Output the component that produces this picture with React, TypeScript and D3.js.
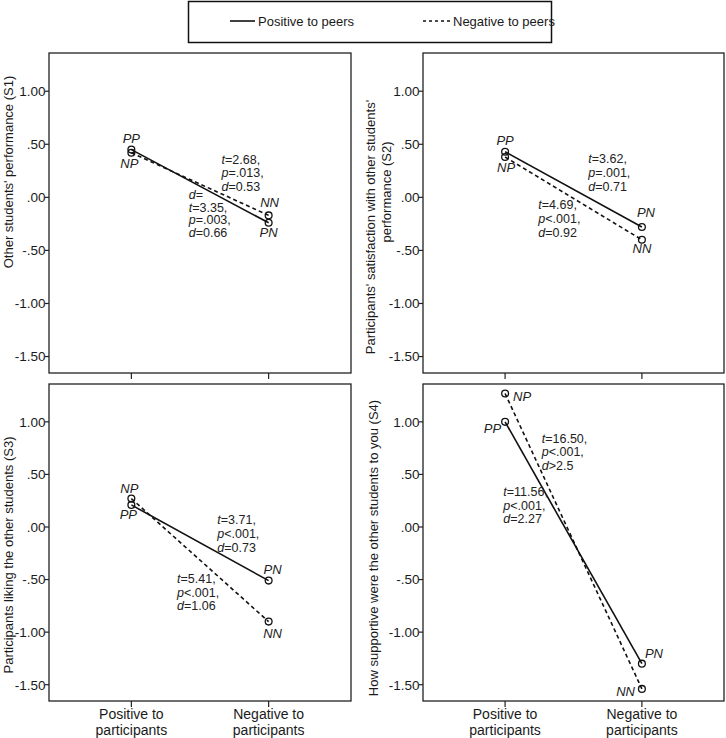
import React from "react";
import * as d3 from "d3";

// ---- data ----
const X_CATEGORY_LINES = [
  ["Positive to", "participants"],
  ["Negative to", "participants"],
];
const Y_TICK_VALUES = [1.0, 0.5, 0.0, -0.5, -1.0, -1.5];
const Y_TICK_LABELS = ["1.00", ".50", ".00", "-.50", "-1.00", "-1.50"];

const LEGEND_LABELS = ["Positive to peers", "Negative to peers"];

// solid = positive to peers (PP, PN); dashed = negative to peers (NP, NN)
const S1_POSITIVE = [0.45, -0.24];
const S1_NEGATIVE = [0.42, -0.17];
const S2_POSITIVE = [0.43, -0.28];
const S2_NEGATIVE = [0.38, -0.4];
const S3_POSITIVE = [0.21, -0.51];
const S3_NEGATIVE = [0.27, -0.9];
const S4_POSITIVE = [1.0, -1.3];
const S4_NEGATIVE = [1.27, -1.54];

const POSITIVE_POINT_LABELS = ["PP", "PN"];
const NEGATIVE_POINT_LABELS = ["NP", "NN"];

const Y_TITLES = [
  ["Other students' performance (S1)"],
  ["Participants' satisfaction with other students'", "performance (S2)"],
  ["Participants liking the other students (S3)"],
  ["How supportive were the other students to you (S4)"],
];

// statistics annotations: [italic letter, rest]
const S1_STATS_A = [["t", "=2.68,"], ["p", "=.013,"], ["d", "=0.53"]];
const S1_STATS_B = [["d", "="], ["t", "=3.35,"], ["p", "=.003,"], ["d", "=0.66"]];
const S2_STATS_A = [["t", "=3.62,"], ["p", "=.001,"], ["d", "=0.71"]];
const S2_STATS_B = [["t", "=4.69,"], ["p", "<.001,"], ["d", "=0.92"]];
const S3_STATS_A = [["t", "=3.71,"], ["p", "<.001,"], ["d", "=0.73"]];
const S3_STATS_B = [["t", "=5.41,"], ["p", "<.001,"], ["d", "=1.06"]];
const S4_STATS_A = [["t", "=16.50,"], ["p", "<.001,"], ["d", ">2.5"]];
const S4_STATS_B = [["t", "=11.56,"], ["p", "<.001,"], ["d", "=2.27"]];

// ---- layout ----
const FONT = "'Liberation Sans', Arial, Helvetica, sans-serif";
const X_DOMAIN = [-0.6, 1.6];
const Y_DOMAIN = [-1.655, 1.36];

const PANEL_BOXES = [
  { x0: 49, x1: 351, y0: 53, y1: 373 },
  { x0: 423, x1: 724, y0: 53, y1: 373 },
  { x0: 49, x1: 351, y0: 384, y1: 701 },
  { x0: 423, x1: 724, y0: 384, y1: 701 },
];

// y-title placement: baseline x per line, center y per line
const TITLE_POS = [
  [{ x: 13, y: 172 }],
  [{ x: 375, y: 227 }, { x: 391, y: 192 }],
  [{ x: 13, y: 555 }],
  [{ x: 378, y: 548 }],
];

// label offsets relative to the point: [dx, dy, anchor]
type Off = [number, number, string];
const POS_LABEL_OFFSETS: Off[][] = [
  [[0, -7, "middle"], [0, 14, "middle"]],
  [[0, -7, "middle"], [4, -10, "middle"]],
  [[-3, 14, "middle"], [4, -7, "middle"]],
  [[-4, 11, "end"], [3, -6, "start"]],
];
const NEG_LABEL_OFFSETS: Off[][] = [
  [[-2, 15, "middle"], [1, -8, "middle"]],
  [[1, 15, "middle"], [0, 13, "middle"]],
  [[-2, -6, "middle"], [4, 16, "middle"]],
  [[8, 8, "start"], [-7, 7, "end"]],
];

// annotation anchors in data units (x along category axis, y value of first baseline)
const ANNOTATIONS = [
  [
    { x: 0.657, y: 0.315, lh: 13.3, lines: S1_STATS_A },
    { x: 0.418, y: -0.02, lh: 12.5, lines: S1_STATS_B },
  ],
  [
    { x: 0.608, y: 0.324, lh: 13.8, lines: S2_STATS_A },
    { x: 0.243, y: -0.109, lh: 14, lines: S2_STATS_B },
  ],
  [
    { x: 0.626, y: 0.024, lh: 13.7, lines: S3_STATS_A },
    { x: 0.333, y: -0.531, lh: 13.7, lines: S3_STATS_B },
  ],
  [
    { x: 0.268, y: 0.803, lh: 13.7, lines: S4_STATS_A },
    { x: -0.013, y: 0.295, lh: 13.7, lines: S4_STATS_B },
  ],
];

const PANELS = [
  { pos: S1_POSITIVE, neg: S1_NEGATIVE, showX: false },
  { pos: S2_POSITIVE, neg: S2_NEGATIVE, showX: false },
  { pos: S3_POSITIVE, neg: S3_NEGATIVE, showX: true },
  { pos: S4_POSITIVE, neg: S4_NEGATIVE, showX: true },
];

function Panel({ idx }: { idx: number }) {
  const box = PANEL_BOXES[idx];
  const p = PANELS[idx];
  const x = d3.scaleLinear().domain(X_DOMAIN).range([box.x0, box.x1]);
  const y = d3.scaleLinear().domain(Y_DOMAIN).range([box.y1, box.y0]);
  const line = d3
    .line<number>()
    .x((_, i) => x(i))
    .y((v) => y(v));

  return (
    <g>
      <rect
        x={box.x0}
        y={box.y0}
        width={box.x1 - box.x0}
        height={box.y1 - box.y0}
        fill="none"
        stroke="#222"
        strokeWidth={1.3}
      />
      {Y_TICK_VALUES.map((v, i) => (
        <g key={i}>
          <line x1={box.x0 - 4} x2={box.x0} y1={y(v)} y2={y(v)} stroke="#222" strokeWidth={1.2} />
          <text
            x={box.x0 - 3.5}
            y={y(v)}
            dy="0.36em"
            textAnchor="end"
            fontSize={13.5}
            fontFamily={FONT}
            fill="#1a1a1a"
          >
            {Y_TICK_LABELS[i]}
          </text>
        </g>
      ))}
      {X_CATEGORY_LINES.map((lines, i) => (
        <g key={i}>
          <line x1={x(i)} x2={x(i)} y1={box.y1} y2={box.y1 + 6} stroke="#222" strokeWidth={1.2} />
          {p.showX &&
            lines.map((t, j) => (
              <text
                key={j}
                x={x(i)}
                y={box.y1 + 18 + j * 15.5}
                textAnchor="middle"
                fontSize={14}
                fontFamily={FONT}
                fill="#1a1a1a"
              >
                {t}
              </text>
            ))}
        </g>
      ))}
      {Y_TITLES[idx].map((t, j) => {
        const tp = TITLE_POS[idx][j];
        return (
          <text
            key={j}
            transform={`translate(${tp.x},${tp.y}) rotate(-90)`}
            textAnchor="middle"
            fontSize={13}
            fontFamily={FONT}
            fill="#1a1a1a"
          >
            {t}
          </text>
        );
      })}
      <path d={line(p.neg) || ""} fill="none" stroke="#111" strokeWidth={1.6} strokeDasharray="4,3" />
      <path d={line(p.pos) || ""} fill="none" stroke="#111" strokeWidth={1.6} />
      {p.pos.map((v, i) => (
        <circle key={"p" + i} cx={x(i)} cy={y(v)} r={3.4} fill="none" stroke="#111" strokeWidth={1.3} />
      ))}
      {p.neg.map((v, i) => (
        <circle key={"n" + i} cx={x(i)} cy={y(v)} r={3.4} fill="none" stroke="#111" strokeWidth={1.3} />
      ))}
      {p.pos.map((v, i) => {
        const o = POS_LABEL_OFFSETS[idx][i];
        return (
          <text
            key={"pl" + i}
            x={x(i) + o[0]}
            y={y(v) + o[1]}
            textAnchor={o[2]}
            fontSize={13}
            fontStyle="italic"
            fontFamily={FONT}
            fill="#222"
          >
            {POSITIVE_POINT_LABELS[i]}
          </text>
        );
      })}
      {p.neg.map((v, i) => {
        const o = NEG_LABEL_OFFSETS[idx][i];
        return (
          <text
            key={"nl" + i}
            x={x(i) + o[0]}
            y={y(v) + o[1]}
            textAnchor={o[2]}
            fontSize={13}
            fontStyle="italic"
            fontFamily={FONT}
            fill="#222"
          >
            {NEGATIVE_POINT_LABELS[i]}
          </text>
        );
      })}
      {ANNOTATIONS[idx].map((a, k) => (
        <text key={"a" + k} fontSize={12.5} fontFamily={FONT} fill="#222">
          {a.lines.map((ln, j) => (
            <tspan key={j} x={x(a.x)} y={y(a.y) + j * a.lh}>
              <tspan fontStyle="italic">{ln[0]}</tspan>
              {ln[1]}
            </tspan>
          ))}
        </text>
      ))}
    </g>
  );
}

export default function App() {
  return (
    <svg
      width={726}
      height={738}
      style={{ position: "absolute", left: 0, top: 0, background: "#fff" }}
    >
      <rect x={0} y={0} width={726} height={738} fill="#fff" />
      <g>
        <rect x={188.5} y={1.5} width={363} height={41} fill="none" stroke="#111" strokeWidth={1.5} />
        <line x1={230} x2={255} y1={21} y2={21} stroke="#111" strokeWidth={1.6} />
        <text x={258} y={25.5} fontSize={13} fontFamily={FONT} fill="#1a1a1a">
          {LEGEND_LABELS[0]}
        </text>
        <line x1={423} x2={450} y1={21} y2={21} stroke="#111" strokeWidth={1.6} strokeDasharray="3,3" />
        <text x={453} y={25.5} fontSize={13} fontFamily={FONT} fill="#1a1a1a">
          {LEGEND_LABELS[1]}
        </text>
      </g>
      {PANELS.map((_, i) => (
        <Panel key={i} idx={i} />
      ))}
    </svg>
  );
}
